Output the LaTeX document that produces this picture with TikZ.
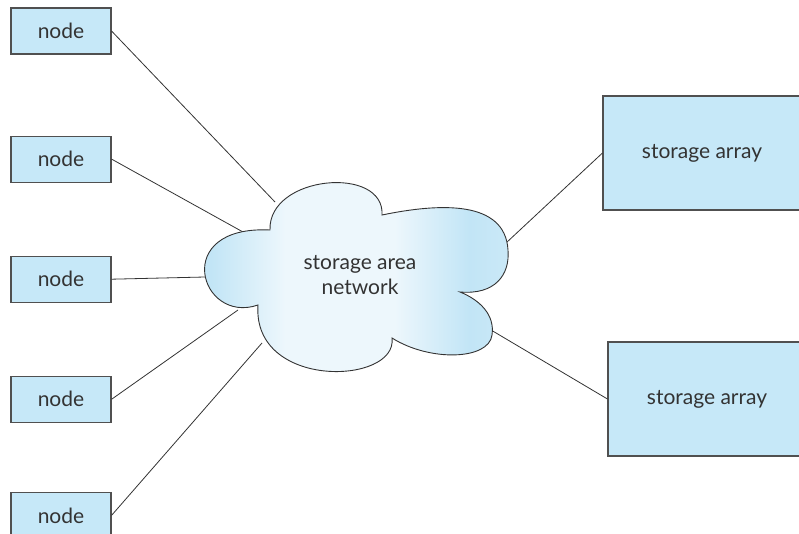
\documentclass[tikz,border=0pt]{standalone}
\usepackage{fontspec}
\setmainfont{Lato}
\usepackage{tikz}
\usetikzlibrary{positioning}
\definecolor{boxblue}{HTML}{C6E8F8}
\definecolor{cloudblue}{HTML}{C2E5F6}
\definecolor{cloudlight}{HTML}{EDF7FC}
\definecolor{edgegray}{HTML}{505050}
\definecolor{textgray}{HTML}{333333}
\pgfdeclarehorizontalshading{cloudshade}{100bp}{color(0bp)=(cloudblue); color(25bp)=(cloudblue!80!cloudlight); color(31bp)=(cloudblue); color(42bp)=(cloudlight); color(58bp)=(cloudlight); color(69bp)=(cloudblue); color(75bp)=(cloudblue!80!cloudlight); color(100bp)=(cloudblue)}

\begin{document}
\begin{tikzpicture}[
  x=1pt, y=-1pt,
  host/.style={rectangle, draw=edgegray, line width=1.1pt, fill=boxblue, minimum width=100pt, minimum height=46pt, inner sep=0pt, text=textgray, font=\fontsize{21}{25}\selectfont},
  array/.style={host, minimum width=198pt, minimum height=114pt},
  link/.style={draw=textgray, line width=0.8pt},
  node distance=73pt
]
\useasboundingbox (0,0) rectangle (799,534);

\node[host] at (61,31) (n1) {node};
\node[host, below=81pt of n1] (n2) {node};
\node[host, below=of n2] (n3) {node};
\node[host, below=of n3] (n4) {node};
\node[host, below=69pt of n4] (n5) {node};

\node[array] at (702,153) (sa1) {storage array};
\node[array] at (707,399) (sa2) {storage array};

% points on the cloud edge
\coordinate (c1) at (275,202);
\coordinate (c2) at (243,232);
\coordinate (c3) at (205,277);
\coordinate (c4) at (238,310);
\coordinate (c5) at (262,343);
\coordinate (c6) at (506,243);
\coordinate (c7) at (491,330);

\draw[link] (n1.east) -- (c1);
\draw[link] (n2.east) -- (c2);
\draw[link] (n3.east) -- (c3);
\draw[link] (n4.east) -- (c4);
\draw[link] (n5.east) -- (c5);
\draw[link] (sa1.west) -- (c6);
\draw[link] (sa2.west) -- (c7);

% cloud
\draw[draw=textgray, line width=0.9pt, shading=cloudshade]
  (270,230) .. controls (268,175) and (385,165) .. (382,215)
  .. controls (440,203) and (505,200) .. (508,250)
  .. controls (510,275) and (495,295) .. (460,292)
  .. controls (480,300) and (495,315) .. (492,335)
  .. controls (489,360) and (430,362) .. (392,338)
  .. controls (398,385) and (252,390) .. (258,305)
  .. controls (200,325) and (170,225) .. (270,230) -- cycle;
\node[align=center, text=textgray, font=\fontsize{21}{25}\selectfont] at (360,275) (san) {storage area\\network};

\end{tikzpicture}
\end{document}
